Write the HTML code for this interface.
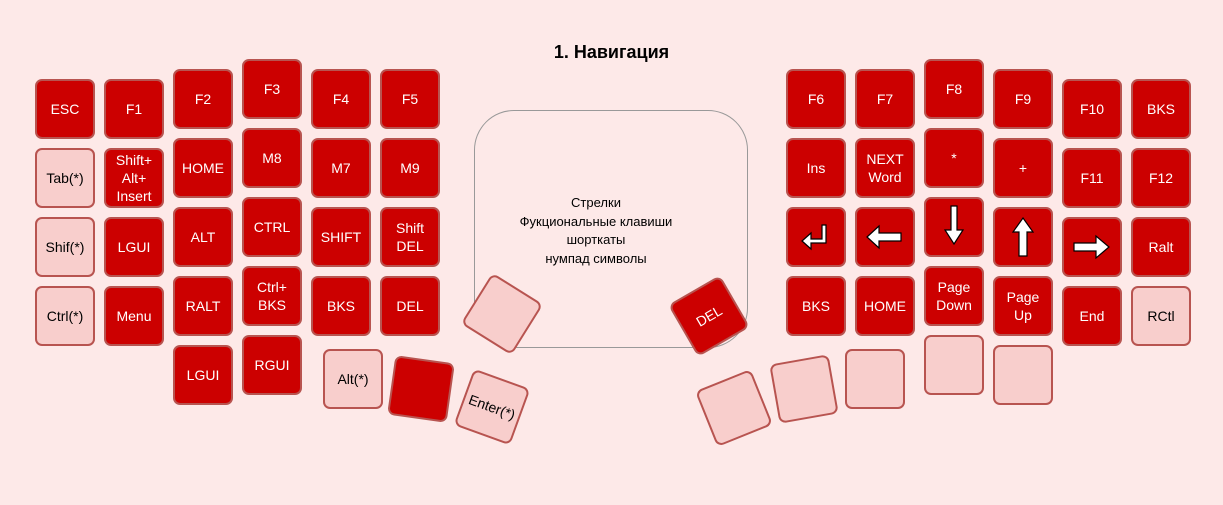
<!DOCTYPE html>
<html><head><meta charset="utf-8"><style>
body{margin:0;width:1223px;height:505px;background:#fde9e8;position:relative;overflow:hidden;font-family:"Liberation Sans",sans-serif}
.k{position:absolute;width:60px;height:60px;box-sizing:border-box;border:2px solid #b85450;border-radius:7px;background:#cc0000;color:#fff;font-size:14px;display:flex;align-items:center;justify-content:center;text-align:center;line-height:18px}
.l{background:#f8cecc;color:#000}
.t{position:absolute;left:0;width:1223px;top:42px;text-align:center;font-weight:bold;font-size:18px}
.box{position:absolute;left:474px;top:110px;width:274px;height:238px;box-sizing:border-box;border:1px solid #999;border-radius:40px}
.c{position:absolute;left:474px;width:244px;top:194px;text-align:center;font-size:13px;line-height:18.5px}
</style></head><body>
<div class="t">1. Навигация</div>
<div class="box"></div>
<div class="c">Стрелки<br>Фукциональные клавиши<br>шорткаты<br>нумпад символы</div>

<div class="k" style="left:35px;top:79px">ESC</div>
<div class="k l" style="left:35px;top:148px">Tab(*)</div>
<div class="k l" style="left:35px;top:217px">Shif(*)</div>
<div class="k l" style="left:35px;top:286px">Ctrl(*)</div>
<div class="k" style="left:104px;top:79px">F1</div>
<div class="k" style="left:104px;top:148px">Shift+<br>Alt+<br>Insert</div>
<div class="k" style="left:104px;top:217px">LGUI</div>
<div class="k" style="left:104px;top:286px">Menu</div>
<div class="k" style="left:173px;top:69px">F2</div>
<div class="k" style="left:173px;top:138px">HOME</div>
<div class="k" style="left:173px;top:207px">ALT</div>
<div class="k" style="left:173px;top:276px">RALT</div>
<div class="k" style="left:173px;top:345px">LGUI</div>
<div class="k" style="left:242px;top:59px">F3</div>
<div class="k" style="left:242px;top:128px">M8</div>
<div class="k" style="left:242px;top:197px">CTRL</div>
<div class="k" style="left:242px;top:266px">Ctrl+<br>BKS</div>
<div class="k" style="left:242px;top:335px">RGUI</div>
<div class="k" style="left:311px;top:69px">F4</div>
<div class="k" style="left:311px;top:138px">M7</div>
<div class="k" style="left:311px;top:207px">SHIFT</div>
<div class="k" style="left:311px;top:276px">BKS</div>
<div class="k" style="left:380px;top:69px">F5</div>
<div class="k" style="left:380px;top:138px">M9</div>
<div class="k" style="left:380px;top:207px">Shift<br>DEL</div>
<div class="k" style="left:380px;top:276px">DEL</div>

<div class="k l" style="left:323px;top:349px">Alt(*)</div>
<div class="k" style="left:391px;top:359px;transform:rotate(8deg)"></div>
<div class="k l" style="left:462px;top:377px;transform:rotate(20deg)">Enter(*)</div>
<div class="k l" style="left:472px;top:284px;transform:rotate(32deg)"></div>
<div class="k" style="left:679px;top:286px;transform:rotate(-30deg)">DEL</div>

<div class="k l" style="left:704px;top:378px;transform:rotate(-22deg)"></div>
<div class="k l" style="left:774px;top:359px;transform:rotate(-10deg)"></div>
<div class="k l" style="left:845px;top:349px"></div>
<div class="k l" style="left:924px;top:335px"></div>
<div class="k l" style="left:993px;top:345px"></div>

<div class="k" style="left:786px;top:69px">F6</div>
<div class="k" style="left:786px;top:138px">Ins</div>
<div class="k" style="left:786px;top:207px"><svg width="40" height="40" viewBox="0 0 40 40"><path d="M26 8h4v18H15v6L6 24l9-8v6h11z" fill="#fff" stroke="#000" stroke-width="1.2"/></svg></div>
<div class="k" style="left:786px;top:276px">BKS</div>
<div class="k" style="left:855px;top:69px">F7</div>
<div class="k" style="left:855px;top:138px">NEXT<br>Word</div>
<div class="k" style="left:855px;top:207px"><svg width="44" height="40" viewBox="0 0 44 40"><path d="M4 20l12-11v7h22v8H16v7z" fill="#fff" stroke="#000" stroke-width="1.2"/></svg></div>
<div class="k" style="left:855px;top:276px">HOME</div>
<div class="k" style="left:924px;top:59px">F8</div>
<div class="k" style="left:924px;top:128px">*</div>
<div class="k" style="left:924px;top:197px"><svg width="40" height="50" viewBox="0 0 40 50"><path d="M17 4h6v24h6L20 42 11 28h6z" fill="#fff" stroke="#000" stroke-width="1.2"/></svg></div>
<div class="k" style="left:924px;top:266px">Page<br>Down</div>
<div class="k" style="left:993px;top:69px">F9</div>
<div class="k" style="left:993px;top:138px">+</div>
<div class="k" style="left:993px;top:207px"><svg width="40" height="50" viewBox="0 0 40 50"><path d="M20 6l10 14h-6v24h-8V20h-6z" fill="#fff" stroke="#000" stroke-width="1.2"/></svg></div>
<div class="k" style="left:993px;top:276px">Page<br>Up</div>
<div class="k" style="left:1062px;top:79px">F10</div>
<div class="k" style="left:1062px;top:148px">F11</div>
<div class="k" style="left:1062px;top:217px"><svg width="44" height="40" viewBox="0 0 44 40"><path d="M4 16h22V9l13 11-13 11v-7H4z" fill="#fff" stroke="#000" stroke-width="1.2"/></svg></div>
<div class="k" style="left:1062px;top:286px">End</div>
<div class="k" style="left:1131px;top:79px">BKS</div>
<div class="k" style="left:1131px;top:148px">F12</div>
<div class="k" style="left:1131px;top:217px">Ralt</div>
<div class="k l" style="left:1131px;top:286px">RCtl</div>
</body></html>
